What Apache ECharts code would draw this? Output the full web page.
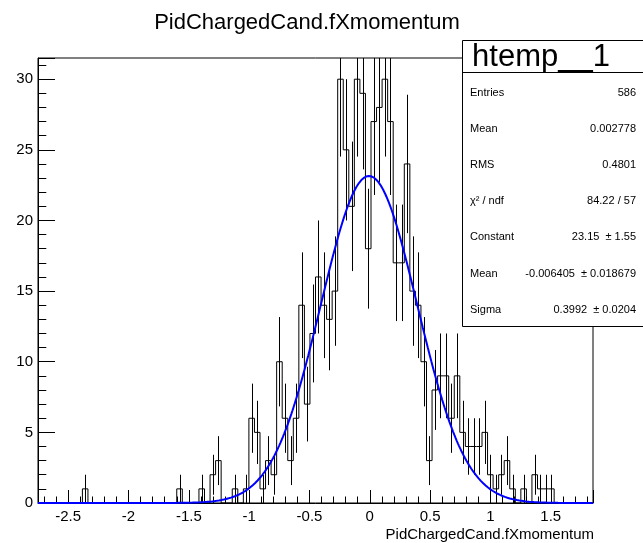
<!DOCTYPE html>
<html><head><meta charset="utf-8">
<script src="https://cdn.jsdelivr.net/npm/echarts@6/dist/echarts.min.js"></script>
<style>html,body{margin:0;padding:0;background:#fff}#c{width:643px;height:543px}</style>
</head><body><div id="c"></div>
<script>
// ---- data ----
const histTitle = 'PidChargedCand.fXmomentum';
const xAxisTitle = 'PidChargedCand.fXmomentum';
const xMin = -2.75, xMax = 1.85, nBins = 100;
const yMin = 0, yMax = 31.5;
const binCounts = [
  0,0,0,0,0,0,0,0,1,0,
  0,0,0,0,0,0,0,0,0,0,
  0,0,0,0,0,1,0,0,0,1,
  0,2,3,0,0,1,0,1,6,5,
  1,3,2,10,6,3,6,14,7,12,
  16,14,13,15,30,25,21,30,29,18,
  27,28,30,27,17,17,24,15,14,10,
  3,8,9,9,6,9,5,4,4,4,
  5,2,1,2,3,1,0,1,0,2,
  1,1,1,0,0,0,0,0,0,0
];
const xTickLabels = ['-2.5','-2','-1.5','-1','-0.5','0','0.5','1','1.5'];
const yTickLabels = ['0','5','10','15','20','25','30'];
const statsName = 'htemp__1';
const statLabels = ['Entries','Mean','RMS','χ² / ndf','Constant','Mean','Sigma'];
const statValues = ['586','0.002778','0.4801','84.22 / 57','23.15  ± 1.55','-0.006405  ± 0.018679','0.3992  ± 0.0204'];
// Gaussian fit parameters shown in the stats box
const fitConstant = 23.15, fitMean = -0.006405, fitSigma = 0.3992;

// ---- build series from the arrays ----
const binW = (xMax - xMin) / nBins;
const stepData = binCounts.map((n, i) => [xMin + i * binW, n]);
stepData.push([xMax, binCounts[nBins - 1]]);
const errData = [];
binCounts.forEach((n, i) => { if (n > 0) errData.push([xMin + (i + 0.5) * binW, n]); });
const fitData = [];
const nFit = 460;
for (let i = 0; i <= nFit; i++) {
  const x = xMin + (xMax - xMin) * i / nFit;
  fitData.push([x, fitConstant * Math.exp(-0.5 * Math.pow((x - fitMean) / fitSigma, 2))]);
}
function labelFor(list) {
  return v => { const s = String(Math.round(v * 1000) / 1000); return list.indexOf(s) >= 0 ? s : ''; };
}

const FONT = 'Liberation Sans';
const chart = echarts.init(document.getElementById('c'), null, {renderer: 'canvas'});

const graphics = [];
graphics.push({type:'text', z:10, style:{text: histTitle, x: 307, y: 23, font: '22px "' + FONT + '"', fill:'#000', align:'center', verticalAlign:'middle'}});
graphics.push({type:'text', z:10, style:{text: xAxisTitle, x: 594, y: 535, font: '15px "' + FONT + '"', fill:'#000', align:'right', verticalAlign:'middle'}});
graphics.push({type:'rect', z:20, shape:{x:462.5, y:40.5, width:200, height:286}, style:{fill:'#fff', stroke:'#000', lineWidth:1}});
graphics.push({type:'line', z:21, shape:{x1:462, y1:72.5, x2:643, y2:72.5}, style:{stroke:'#000', lineWidth:1}});
graphics.push({type:'text', z:22, style:{text: statsName, x: 541, y: 57, font: '31px "' + FONT + '"', fill:'#000', align:'center', verticalAlign:'middle'}});
statLabels.forEach((t, i) => {
  const y = 92.5 + i * 36.2;
  graphics.push({type:'text', z:22, style:{text: t, x: 470, y: y, font: '11px "' + FONT + '"', fill:'#000', align:'left', verticalAlign:'middle'}});
  graphics.push({type:'text', z:22, style:{text: statValues[i], x: 636, y: y, font: '11px "' + FONT + '"', fill:'#000', align:'right', verticalAlign:'middle'}});
});

chart.setOption({
  animation: false,
  backgroundColor: '#fff',
  grid: {left: 38, right: 50, top: 58, bottom: 40, show: true, borderColor: '#000', borderWidth: 1, backgroundColor: 'transparent'},
  xAxis: {
    type: 'value', min: xMin, max: xMax, splitNumber: 9,
    axisLine: {show: true, onZero: false, lineStyle: {color: '#000', width: 1}},
    axisTick: {show: true, inside: true, length: 13, lineStyle: {color: '#000'}},
    minorTick: {show: true, splitNumber: 5, length: 6.5, lineStyle: {color: '#000'}},
    axisLabel: {show: true, margin: 6, fontSize: 15, color: '#000', fontFamily: FONT, formatter: labelFor(xTickLabels)},
    splitLine: {show: false}
  },
  yAxis: {
    type: 'value', min: yMin, max: yMax, interval: 5,
    axisLine: {show: true, onZero: false, lineStyle: {color: '#000', width: 1}},
    axisTick: {show: true, inside: true, length: 17, lineStyle: {color: '#000'}},
    minorTick: {show: true, splitNumber: 5, length: 8.3, lineStyle: {color: '#000'}},
    axisLabel: {show: true, margin: 5, fontSize: 15, color: '#000', fontFamily: FONT, formatter: labelFor(yTickLabels)},
    splitLine: {show: false}
  },
  series: [
    {type: 'line', step: 'end', data: stepData, symbol: 'none', z: 2,
     lineStyle: {color: '#000', width: 1}, clip: true},
    {type: 'custom', data: errData, z: 2, clip: true,
     renderItem: function (params, api) {
       const x = api.value(0), n = api.value(1), e = Math.sqrt(n);
       const lo = api.coord([x, Math.max(n - e, yMin)]);
       const hi = api.coord([x, Math.min(n + e, yMax)]);
       const px = Math.round(lo[0]) + 0.5;
       return {type: 'line', shape: {x1: px, y1: lo[1], x2: px, y2: hi[1]}, style: {stroke: '#000', lineWidth: 1}};
     }},
    {type: 'line', data: fitData, symbol: 'none', z: 3, smooth: false,
     lineStyle: {color: '#0000ff', width: 2}, clip: true}
  ],
  graphic: graphics
});
</script>
</body></html>
